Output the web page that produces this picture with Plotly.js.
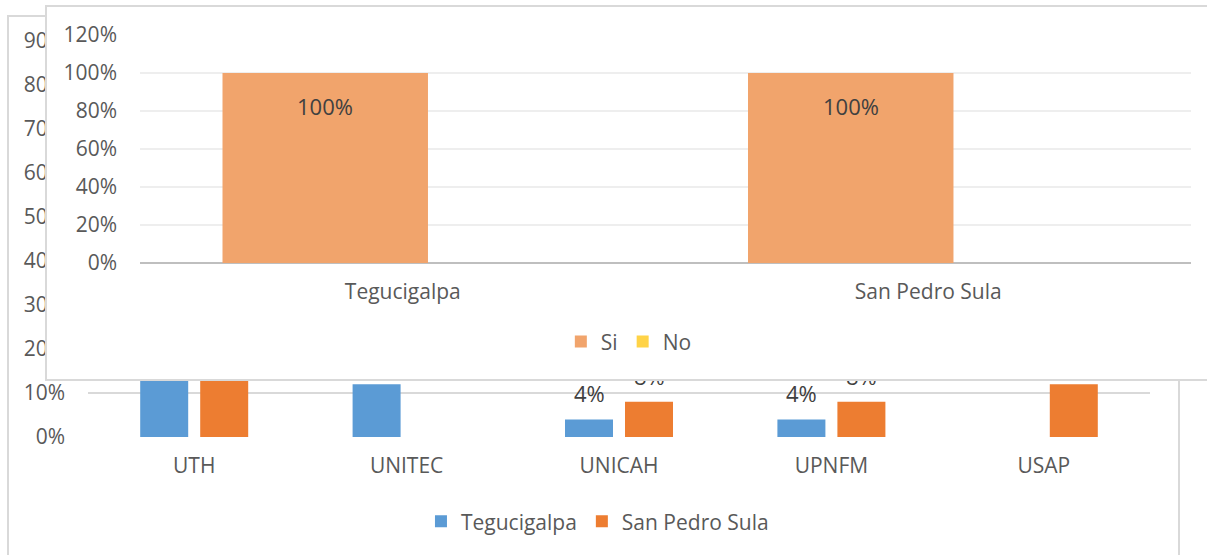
<!DOCTYPE html>
<html>
<head>
<meta charset="utf-8">
<script src="https://cdn.plot.ly/plotly-3.0.1.min.js"></script>
<style>
  html, body { margin:0; padding:0; background:#ffffff; }
  #wrap { position:relative; width:1207px; height:555px; overflow:hidden; background:#fff; }
  #frame { position:absolute; left:7px; top:15px; width:1173px; height:560px; border:2px solid #d9d9d9; box-sizing:border-box; }
  #back { position:absolute; left:0; top:0; width:1207px; height:555px; }
  #front { position:absolute; left:45px; top:5px; width:1170px; height:376px; background:#fff; border:2px solid #d9d9d9; box-sizing:border-box; }
  #frontplot { position:absolute; left:0; top:0; width:1166px; height:372px; }
</style>
</head>
<body>
<div id="wrap">
  <div id="frame"></div>
  <div id="back"></div>
  <div id="front"><div id="frontplot"></div></div>
</div>
<script>
// Background chart (partly hidden)
var universities = ["UTH", "UNITEC", "UNICAH", "UPNFM", "USAP"];
var tegucigalpa = [0.80, 0.12, 0.04, 0.04, null];
var sanPedroSula = [0.72, null, 0.08, 0.08, 0.12];
var backTicks = [0, 0.1, 0.2, 0.3, 0.4, 0.5, 0.6, 0.7, 0.8, 0.9];

// Foreground chart
var cities = ["Tegucigalpa", "San Pedro Sula"];
var si = [1.0, 1.0];
var no = [0, 0];
var frontTicks = [0, 0.2, 0.4, 0.6, 0.8, 1.0, 1.2];

function pct(v) { return Math.round(v * 100) + "%"; }
function pctLabels(arr) { return arr.map(pct); }

var txtColor = "#595959";
var lblColor = "#404040";
var fam = "Open Sans, Liberation Sans, sans-serif";

var backData = [
  { type: "bar", name: "Tegucigalpa", x: universities, y: tegucigalpa, marker: { color: "#5B9BD5" } },
  { type: "bar", name: "San Pedro Sula", x: universities, y: sanPedroSula, marker: { color: "#ED7D31" } }
];

var backAnn = [];
[[tegucigalpa, -30], [sanPedroSula, 30]].forEach(function (s) {
  s[0].forEach(function (v, i) {
    if (v == null) return;
    backAnn.push({
      x: universities[i], y: v, xref: "x", yref: "y", xshift: s[1], yshift: 9,
      yanchor: "bottom", showarrow: false, text: pct(v),
      font: { family: fam, size: 22, color: lblColor }
    });
  });
});

var backLayout = {
  width: 1207, height: 555,
  margin: { l: 88, r: 57, t: 41, b: 118 },
  paper_bgcolor: "rgba(0,0,0,0)", plot_bgcolor: "rgba(0,0,0,0)",
  font: { family: fam, color: txtColor, size: 21 },
  barmode: "group", bargap: 0.435, bargroupgap: 0.2,
  showlegend: true,
  annotations: backAnn,
  legend: {
    orientation: "h", xref: "container", yref: "container",
    x: 0.495, xanchor: "center", y: 0.06, yanchor: "middle",
    font: { size: 21, color: txtColor }, itemwidth: 30
  },
  xaxis: {
    showgrid: false, zeroline: false, showline: false, ticks: "",
    tickfont: { size: 21, color: txtColor }, ticklabelstandoff: 14
  },
  yaxis: {
    range: [0, 0.9], tickvals: backTicks, ticktext: pctLabels(backTicks),
    showgrid: true, gridcolor: "#d9d9d9", gridwidth: 2,
    zeroline: false, showline: false, ticks: "",
    tickfont: { size: 21, color: txtColor }, ticklabelstandoff: 22
  }
};

var siOffset = -0.343, barW = 0.391;
var frontData = [
  { type: "bar", name: "Si", x: cities, y: si, offset: siOffset, width: barW, marker: { color: "#F1A46C" } },
  { type: "bar", name: "No", x: cities, y: no, offset: siOffset + barW, width: barW, marker: { color: "#FFD347" } }
];
var frontAnn = si.map(function (v, i) {
  return {
    x: i + siOffset + barW / 2, y: v, xref: "x", yref: "y", yshift: -16,
    yanchor: "top", showarrow: false, text: pct(v),
    font: { family: fam, size: 22, color: lblColor }
  };
});

var frontLayout = {
  width: 1166, height: 372,
  margin: { l: 93, r: 22, t: 28, b: 116 },
  paper_bgcolor: "#ffffff", plot_bgcolor: "#ffffff",
  font: { family: fam, color: txtColor, size: 21 },
  barmode: "overlay",
  showlegend: true,
  annotations: frontAnn,
  legend: {
    orientation: "h", xref: "container", yref: "container",
    x: 0.499, xanchor: "center", y: 0.1, yanchor: "middle",
    font: { size: 21, color: txtColor }, itemwidth: 30
  },
  xaxis: {
    showgrid: false, zeroline: false, showline: false, ticks: "",
    tickfont: { size: 21, color: txtColor }, ticklabelstandoff: 14
  },
  yaxis: {
    range: [0, 1.2], tickvals: frontTicks, ticktext: pctLabels(frontTicks),
    showgrid: true, gridcolor: "#eeeeee", gridwidth: 2,
    zeroline: true, zerolinecolor: "#bfbfbf", zerolinewidth: 2,
    showline: false, ticks: "",
    tickfont: { size: 21, color: txtColor }, ticklabelstandoff: 22
  }
};

var cfg = { staticPlot: true, displayModeBar: false };
Plotly.newPlot("back", backData, backLayout, cfg);
Plotly.newPlot("frontplot", frontData, frontLayout, cfg);
</script>
</body>
</html>
